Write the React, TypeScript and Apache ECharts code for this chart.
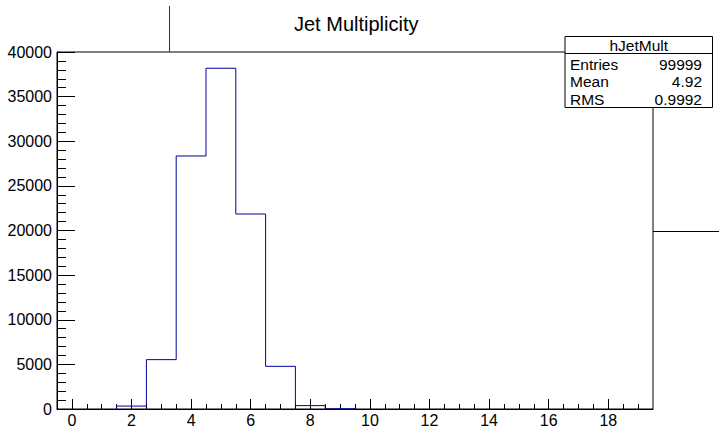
import React, { useEffect, useRef } from "react";
import * as echarts from "echarts";

// ---- data ----
const binCenters = [0, 1, 2, 3, 4, 5, 6, 7, 8, 9, 10, 11, 12, 13, 14, 15, 16, 17, 18, 19];
const binCounts = [0, 0, 330, 5530, 28350, 38180, 21850, 4780, 380, 25, 0, 0, 0, 0, 0, 0, 0, 0, 0, 0];
const xMajorTicks = [0, 2, 4, 6, 8, 10, 12, 14, 16, 18];
const yTickInterval = 5000;
const chartTitle = "Jet Multiplicity";
const statsName = "hJetMult";
const statsLabels = ["Entries", "Mean", "RMS"];
const statsValues = ["99999", "4.92", "0.9992"];

const FONT = "'Liberation Sans', Arial, Helvetica, sans-serif";

export default function App() {
  const ref = useRef<HTMLDivElement>(null);
  useEffect(() => {
    if (!ref.current) return;
    const chart = echarts.init(ref.current, null, { renderer: "svg" });

    const binWidth = binCenters[1] - binCenters[0];
    const nz = binCounts.map((v, i) => (v > 0 ? i : -1)).filter((i) => i >= 0);
    const first = nz[0];
    const last = nz[nz.length - 1];
    const pts: number[][] = [];
    pts.push([binCenters[first] - binWidth / 2, 0]);
    for (let i = first; i <= last; i++) pts.push([binCenters[i] - binWidth / 2, binCounts[i]]);
    pts.push([binCenters[last] + binWidth / 2, binCounts[last]]);
    pts.push([binCenters[last] + binWidth / 2, 0]);

    const xMin = binCenters[0] - binWidth / 2;
    const xMax = binCenters[binCenters.length - 1] + binWidth / 2;
    const minorTicks: number[] = [];
    for (let v = xMin + 0.5; v < xMax - 0.01; v += 0.5) {
      if (xMajorTicks.indexOf(v) < 0) minorTicks.push(v);
    }

    const boxX = 565, boxY = 36.5, boxW = 147.5, boxH = 71;
    const rowY = [64, 81.5, 99];

    chart.setOption({
      animation: false,
      title: {
        text: chartTitle,
        left: 289,
        top: 9,
        textStyle: { fontSize: 20, fontWeight: "normal", color: "#000", fontFamily: FONT },
      },
      grid: {
        left: 57,
        top: 52,
        width: 596,
        height: 358.5,
        show: true,
        borderColor: "#000",
        borderWidth: 1,
        backgroundColor: "transparent",
      },
      xAxis: [
        {
          type: "value",
          min: xMin,
          max: xMax,
          position: "bottom",
          axisLine: { show: true, onZero: false, lineStyle: { color: "#000", width: 1 } },
          axisTick: { show: true, inside: true, length: 10, customValues: xMajorTicks, lineStyle: { color: "#000" } },
          axisLabel: { customValues: xMajorTicks, fontSize: 16, color: "#000", fontFamily: FONT, margin: 3 },
          splitLine: { show: false },
        },
        {
          type: "value",
          min: xMin,
          max: xMax,
          position: "bottom",
          axisLine: { show: false, onZero: false },
          axisTick: { show: true, inside: true, length: 5, customValues: minorTicks, lineStyle: { color: "#000" } },
          axisLabel: { show: false },
          splitLine: { show: false },
        },
      ],
      yAxis: {
        type: "value",
        min: 0,
        max: 40000,
        interval: yTickInterval,
        axisLine: { show: true, onZero: false, lineStyle: { color: "#000", width: 1 } },
        axisTick: { show: true, inside: true, length: 18, lineStyle: { color: "#000" } },
        minorTick: { show: true, splitNumber: 5, length: 9, lineStyle: { color: "#000" } },
        axisLabel: {
          fontSize: 16,
          color: "#000",
          fontFamily: FONT,
          margin: 5,
          formatter: (v: number) => String(v),
        },
        splitLine: { show: false },
      },
      series: [
        {
          type: "line",
          xAxisIndex: 0,
          step: "end",
          showSymbol: false,
          symbol: "none",
          data: pts,
          lineStyle: { color: "#000099", width: 1 },
          z: 3,
        },
      ],
      graphic: [
        {
          type: "line",
          z: 100,
          shape: { x1: 169.5, y1: 6, x2: 169.5, y2: 52 },
          style: { stroke: "#333", lineWidth: 1 },
        },
        {
          type: "line",
          z: 100,
          shape: { x1: 653, y1: 231.5, x2: 719, y2: 231.5 },
          style: { stroke: "#000", lineWidth: 1 },
        },
        {
          type: "group",
          z: 100,
          children: [
            {
              type: "rect",
              shape: { x: boxX, y: boxY, width: boxW, height: boxH },
              style: { fill: "#fff", stroke: "#000", lineWidth: 1 },
            },
            {
              type: "line",
              shape: { x1: boxX, y1: 53.5, x2: boxX + boxW, y2: 53.5 },
              style: { stroke: "#000", lineWidth: 1 },
            },
            {
              type: "text",
              x: boxX + boxW / 2,
              y: 45,
              style: { text: statsName, fontSize: 15.5, fontFamily: FONT, fill: "#000", align: "center", verticalAlign: "middle" },
            },
            ...statsLabels.map((lab, i) => ({
              type: "text",
              x: 570,
              y: rowY[i],
              style: { text: lab, fontSize: 15.5, fontFamily: FONT, fill: "#000", align: "left", verticalAlign: "middle" },
            })),
            ...statsValues.map((val, i) => ({
              type: "text",
              x: 702,
              y: rowY[i],
              style: { text: val, fontSize: 15.5, fontFamily: FONT, fill: "#000", align: "right", verticalAlign: "middle" },
            })),
          ],
        },
      ],
    });
    return () => chart.dispose();
  }, []);
  return (
    <div
      ref={ref}
      style={{ position: "fixed", left: 0, top: 0, width: 719, height: 428, background: "#fff" }}
    />
  );
}
